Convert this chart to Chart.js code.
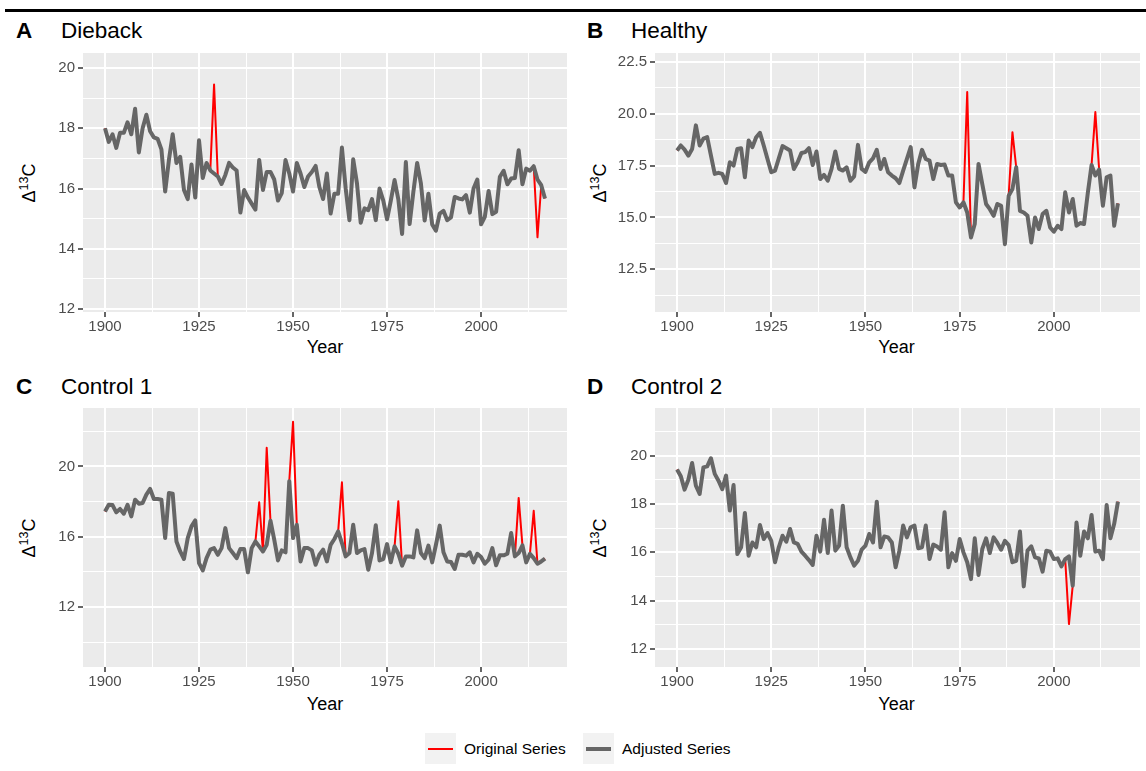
<!DOCTYPE html>
<html lang="en">
<head>
<meta charset="UTF-8" />
<title>Δ13C series – Dieback, Healthy, Control 1, Control 2</title>
<script src="https://cdn.jsdelivr.net/npm/chart.js@4"></script>
<style>
  body {
    margin: 0;
    width: 1146px;
    height: 771px;
    overflow: hidden;
    background: #fff;
    position: relative;
    font-family: "Liberation Sans", Arial, sans-serif;
  }
  .rule { position: absolute; left: 5px; right: 0; top: 9px; height: 2.5px; background: #000; }
  canvas { position: absolute; }
  .tag, .name { position: absolute; font-size: 22.5px; line-height: 1; color: #000; white-space: nowrap; }
  .tag { font-weight: bold; }
  .ytitle {
    position: absolute;
    font-size: 18px;
    line-height: 18px;
    white-space: nowrap;
    transform: translate(-50%, -50%) rotate(-90deg);
  }
  .ytitle sup { font-size: 12.5px; line-height: 0; vertical-align: 7px; }
  .xtitle { position: absolute; font-size: 18px; line-height: 1; transform: translateX(-50%); }
  .key { position: absolute; width: 31px; height: 31px; background: #f2f2f2; }
  .key span { position: absolute; left: 3px; width: 25px; }
  .lab { position: absolute; font-size: 15.5px; line-height: 1; white-space: nowrap; }
</style>
</head>
<body>
  <div class="rule"></div>

  <div class="tag" style="left:16px;top:19.5px">A</div>
  <div class="name" style="left:61px;top:19.5px">Dieback</div>
  <div class="tag" style="left:587px;top:19.5px">B</div>
  <div class="name" style="left:631px;top:19.5px">Healthy</div>
  <div class="tag" style="left:16px;top:375.5px">C</div>
  <div class="name" style="left:61px;top:375.5px">Control 1</div>
  <div class="tag" style="left:587px;top:375.5px">D</div>
  <div class="name" style="left:631px;top:375.5px">Control 2</div>

  <div class="ytitle" style="left:29px;top:182.5px">Δ<sup>13</sup>C</div>
  <div class="ytitle" style="left:600px;top:182.5px">Δ<sup>13</sup>C</div>
  <div class="ytitle" style="left:29px;top:538px">Δ<sup>13</sup>C</div>
  <div class="ytitle" style="left:600px;top:538px">Δ<sup>13</sup>C</div>

  <div class="xtitle" style="left:325px;top:338px">Year</div>
  <div class="xtitle" style="left:896.5px;top:338px">Year</div>
  <div class="xtitle" style="left:325px;top:695px">Year</div>
  <div class="xtitle" style="left:896.5px;top:695px">Year</div>

  <canvas id="dieback" width="533" height="300" style="left:40px;top:40px"></canvas>
  <canvas id="healthy" width="534" height="300" style="left:612px;top:40px"></canvas>
  <canvas id="control1" width="533" height="300" style="left:40px;top:395px"></canvas>
  <canvas id="control2" width="534" height="300" style="left:612px;top:395px"></canvas>

  <div class="key" style="left:425px;top:733px"><span style="top:14.5px;height:2px;background:#ff0000"></span></div>
  <div class="lab" style="left:464px;top:741px">Original Series</div>
  <div class="key" style="left:583px;top:733px"><span style="top:13.5px;height:4px;background:#666666"></span></div>
  <div class="lab" style="left:622px;top:741px">Adjusted Series</div>

<script>
  // one value per year, 1900 to 2017
  const YEARS = Array.from({ length: 118 }, (_, i) => 1900 + i);

  const diebackAdjusted = [
    18.0, 17.55, 17.8, 17.35, 17.85, 17.85, 18.2, 17.8, 18.65, 17.2,
    18.0, 18.45, 17.9, 17.7, 17.65, 17.3, 15.9, 16.95, 17.8, 16.85,
    17.05, 15.95, 15.65, 16.8, 15.7, 17.6, 16.35, 16.85, 16.6, 16.5,
    16.4, 16.15, 16.45, 16.85, 16.7, 16.6, 15.2, 15.95, 15.7, 15.5,
    15.3, 16.95, 15.95, 16.55, 16.55, 16.3, 15.6, 15.85, 16.95, 16.5,
    15.9, 16.85, 16.5, 16.05, 16.4, 16.55, 16.75, 16.05, 15.65, 16.5,
    15.17, 15.83, 15.83, 17.36, 16.0, 14.95, 16.97, 16.17, 14.86, 15.34,
    15.28, 15.65, 14.95, 16.0, 15.6, 14.98, 15.6, 16.28, 15.64, 14.49,
    16.88, 14.82, 15.89, 16.85, 16.17, 14.94, 15.83, 14.81, 14.6, 15.17,
    15.26, 14.95, 15.04, 15.72, 15.67, 15.64, 15.78, 15.2, 16.0, 16.3,
    14.81, 15.06, 15.92, 15.15, 15.23, 16.39, 16.59, 16.14, 16.33, 16.35,
    17.27, 16.14, 16.66, 16.59, 16.74, 16.3, 16.11, 15.67
  ];
  const diebackSpikeYears = [1929, 2015];
  const diebackSpikeValues = [19.45, 14.38];

  const healthyAdjusted = [
    18.23, 18.47, 18.27, 17.98, 18.3, 19.44, 18.47, 18.8, 18.87, 17.98,
    17.1, 17.15, 17.1, 16.66, 17.66, 17.5, 18.3, 18.34, 16.94, 18.71,
    18.39, 18.87, 19.08, 18.47, 17.82, 17.18, 17.26, 17.85, 18.44, 18.34,
    18.23, 17.34, 17.66, 18.11, 18.15, 18.34, 17.53, 18.18, 16.85, 17.05,
    16.77, 17.34, 18.18, 17.34, 17.26, 17.42, 16.77, 16.98, 18.5, 17.34,
    17.2, 17.66, 17.85, 18.26, 17.34, 17.82, 17.18, 17.02, 16.89, 16.66,
    17.26, 17.82, 18.39, 16.45, 17.58, 18.26, 17.82, 17.74, 16.85, 17.58,
    17.53, 17.55, 17.02, 17.02, 15.73, 15.48, 15.73, 15.24, 14.03, 14.68,
    17.58, 16.61, 15.65, 15.4, 15.08, 15.65, 15.56, 13.71, 16.05, 16.37,
    17.42, 15.32, 15.24, 15.08, 13.79, 15.0, 14.44, 15.16, 15.32, 14.52,
    14.31, 14.6, 14.44, 16.21, 15.24, 15.89, 14.6, 14.73, 14.68, 16.18,
    17.53, 17.02, 17.31, 15.56, 16.94, 17.02, 14.6, 15.68
  ];
  const healthySpikeYears = [1977, 1989, 2011];
  const healthySpikeValues = [21.05, 19.11, 20.08];

  const control1Adjusted = [
    17.44, 17.82, 17.8, 17.39, 17.58, 17.31, 17.82, 17.16, 18.11, 17.88,
    17.92, 18.4, 18.72, 18.15, 18.15, 18.11, 15.92, 18.49, 18.45, 15.73,
    15.16, 14.73, 15.92, 16.59, 16.93, 14.5, 14.08, 14.78, 15.26, 15.35,
    14.97, 15.35, 16.49, 15.35, 15.07, 14.78, 15.3, 15.3, 13.97, 15.35,
    15.73, 15.45, 15.16, 15.54, 16.91, 15.83, 14.65, 15.22, 15.11, 19.16,
    15.92, 16.68, 14.59, 15.35, 15.35, 15.22, 14.4, 14.97, 15.26, 14.59,
    15.54, 15.87, 16.3, 15.64, 14.88, 15.07, 16.68, 15.07, 15.22, 15.3,
    14.12, 15.07, 16.65, 14.65, 14.73, 15.58, 14.54, 15.45, 15.03, 14.35,
    14.88, 14.88, 14.82, 16.36, 15.07, 14.78, 15.49, 14.54, 15.54, 16.63,
    15.11, 14.59, 14.56, 14.16, 14.97, 14.97, 14.92, 15.11, 14.54, 15.03,
    14.84, 14.46, 14.69, 15.35, 14.37, 14.94, 14.94, 15.03, 16.21, 14.88,
    15.07, 15.51, 14.54, 15.03, 14.78, 14.46, 14.59, 14.75
  ];
  const control1SpikeYears = [1941, 1943, 1950, 1963, 1978, 2010, 2014];
  const control1SpikeValues = [17.96, 21.06, 22.54, 19.1, 18.02, 18.21, 17.48];

  const control2Adjusted = [
    19.43, 19.15, 18.6, 19.01, 19.7, 18.76, 18.42, 19.52, 19.56, 19.9,
    19.25, 18.97, 18.62, 19.18, 17.73, 18.79, 15.93, 16.21, 17.63, 15.86,
    16.41, 16.21, 17.13, 16.55, 16.8, 16.48, 15.59, 16.21, 16.69, 16.44,
    16.97, 16.41, 16.35, 16.03, 15.86, 15.68, 15.48, 16.69, 16.03, 17.35,
    15.97, 17.73, 16.07, 16.28, 17.93, 16.21, 15.79, 15.45, 15.65, 16.11,
    16.28, 16.76, 16.41, 18.1, 16.21, 16.66, 16.62, 16.41, 15.38, 16.07,
    17.11, 16.62, 17.04, 17.11, 16.17, 16.21, 17.11, 15.72, 16.32, 16.24,
    16.11, 17.66, 15.38, 15.97, 15.65, 16.55, 16.0, 15.59, 14.89, 16.58,
    15.06, 16.14, 16.58, 15.97, 16.62, 16.39, 16.11, 16.48, 16.3, 15.59,
    15.65, 16.86, 14.59, 16.07, 16.25, 15.79, 15.75, 15.2, 16.07, 16.03,
    15.72, 15.75, 15.42, 15.72, 15.83, 14.62, 17.24, 15.86, 16.86, 16.58,
    17.55, 16.03, 16.07, 15.72, 17.96, 16.58, 17.18, 18.1
  ];
  const control2SpikeYears = [2004];
  const control2SpikeValues = [13.03];

  // axis breaks
  const X_MAJOR = [1900, 1925, 1950, 1975, 2000];
  const X_MINOR = [1912.5, 1937.5, 1962.5, 1987.5, 2012.5];

  const diebackYMajor = [12, 14, 16, 18, 20];
  const diebackYMinor = [13, 15, 17, 19];
  const healthyYMajor = [12.5, 15, 17.5, 20, 22.5];
  const healthyYMinor = [11.25, 13.75, 16.25, 18.75, 21.25];
  const control1YMajor = [12, 16, 20];
  const control1YMinor = [10, 14, 18, 22];
  const control2YMajor = [12, 14, 16, 18, 20];
  const control2YMinor = [13, 15, 17, 19, 21];

  Chart.defaults.font.family = '"Liberation Sans", Arial, sans-serif';

  // the original series only differs from the adjusted one in the listed years
  function originalSeries(adjusted, years, values) {
    const out = adjusted.slice();
    years.forEach((yr, k) => { out[YEARS.indexOf(yr)] = values[k]; });
    return out;
  }

  function toPoints(values) {
    return YEARS.map((x, i) => ({ x: x, y: values[i] }));
  }

  function breaks(major, minor) {
    return scale => {
      scale.ticks = major.map(v => ({ value: v }))
        .concat(minor.map(v => ({ value: v, minor: true })))
        .sort((a, b) => a.value - b.value);
    };
  }

  const isMinor = ctx => !!(ctx.tick && ctx.tick.minor);

  function axis(min, max, major, minor, digits, extra) {
    return Object.assign({
      type: 'linear',
      min: min,
      max: max,
      afterBuildTicks: breaks(major, minor),
      border: { display: false },
      grid: {
        color: '#ffffff',
        lineWidth: ctx => isMinor(ctx) ? 1 : 2,
        tickColor: ctx => isMinor(ctx) ? 'rgba(0,0,0,0)' : '#333333',
        tickWidth: 1.5,
        tickLength: 5,
        drawTicks: true
      },
      ticks: {
        autoSkip: false,
        maxRotation: 0,
        color: '#4d4d4d',
        font: { size: 15, lineHeight: 1 },
        callback: (v, i, ticks) => ticks[i].minor ? '' : v.toFixed(digits)
      }
    }, extra);
  }

  function drawPanel(id, adjusted, spikeYears, spikeValues, yMin, yMax, yMajor, yMinor, digits) {
    const original = originalSeries(adjusted, spikeYears, spikeValues);
    new Chart(document.getElementById(id), {
      type: 'line',
      data: {
        datasets: [
          {
            label: 'Adjusted Series',
            data: toPoints(adjusted),
            borderColor: '#666666',
            borderWidth: 4,
            borderJoinStyle: 'round',
            pointRadius: 0,
            order: 0
          },
          {
            label: 'Original Series',
            data: toPoints(original),
            borderColor: '#ff0000',
            borderWidth: 2,
            borderJoinStyle: 'round',
            pointRadius: 0,
            order: 1
          }
        ]
      },
      options: {
        responsive: false,
        animation: false,
        layout: { padding: { left: 0, top: 13, right: 6, bottom: 0 } },
        plugins: {
          legend: { display: false },
          tooltip: { enabled: false }
        },
        scales: {
          x: axis(1894.15, 2022.85, X_MAJOR, X_MINOR, 0, {
            afterFit: scale => { scale.height = 28; },
            ticks: {
              autoSkip: false,
              maxRotation: 0,
              padding: 2,
              color: '#4d4d4d',
              font: { size: 15, lineHeight: 1 },
              callback: (v, i, ticks) => ticks[i].minor ? '' : String(v)
            }
          }),
          y: axis(yMin, yMax, yMajor, yMinor, digits, {
            afterFit: scale => { scale.width = 43; }
          })
        }
      },
      plugins: [{
        id: 'panelBackground',
        beforeDraw(chart) {
          const a = chart.chartArea;
          const c = chart.ctx;
          c.save();
          c.fillStyle = '#ebebeb';
          c.fillRect(a.left, a.top, a.right - a.left, a.bottom - a.top);
          c.restore();
        }
      }]
    });
  }

  drawPanel('dieback', diebackAdjusted, diebackSpikeYears, diebackSpikeValues,
    11.9, 20.5, diebackYMajor, diebackYMinor, 0);
  drawPanel('healthy', healthyAdjusted, healthySpikeYears, healthySpikeValues,
    10.44, 22.93, healthyYMajor, healthyYMinor, 1);
  drawPanel('control1', control1Adjusted, control1SpikeYears, control1SpikeValues,
    8.58, 23.33, control1YMajor, control1YMinor, 0);
  drawPanel('control2', control2Adjusted, control2SpikeYears, control2SpikeValues,
    11.25, 21.98, control2YMajor, control2YMinor, 0);
</script>
</body>
</html>
